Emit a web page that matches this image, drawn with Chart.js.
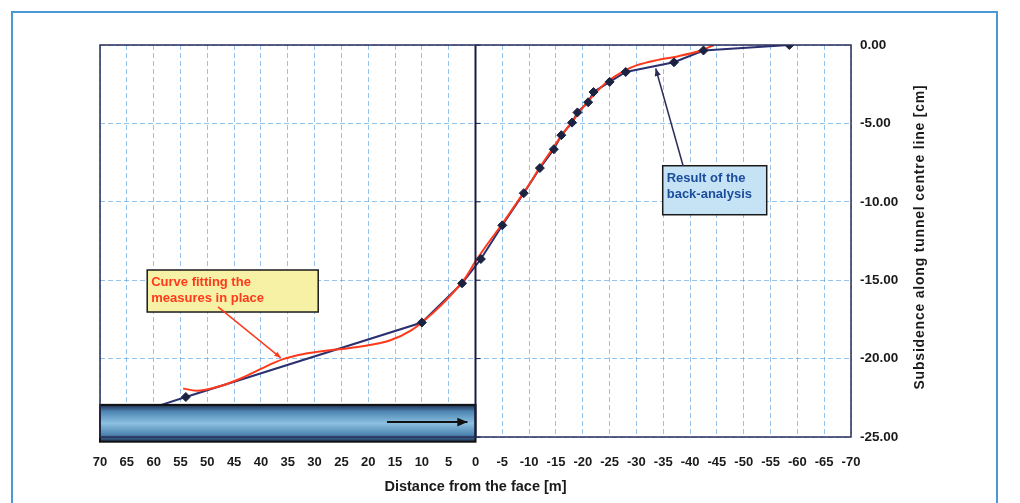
<!DOCTYPE html>
<html>
<head>
<meta charset="utf-8">
<script src="https://cdn.jsdelivr.net/npm/chart.js@4.4.0/dist/chart.umd.min.js"></script>
<style>
  html, body { margin: 0; padding: 0; background: #fff; }
</style>
</head>
<body>
<canvas id="subsidenceChart" width="1020" height="503"></canvas>
<script>
// distance from the face [m] (positive = behind the face) and subsidence [cm]
const backDist = [59, 54, 10, 2.5, -1, -5, -9, -12, -14.6, -16, -18, -19, -21, -22, -25, -28, -37, -42.5, -58.5];
const backSubs = [-23.0, -22.45, -17.7, -15.2, -13.65, -11.5, -9.45, -7.85, -6.65, -5.75, -4.95, -4.3, -3.65, -3.0, -2.35, -1.72, -1.1, -0.35, 0];

const fitDist = [54.5, 52, 48, 44, 40, 36, 32, 28, 24, 20, 16, 12, 8, 5, 2, 0, -2, -5, -8, -10, -12, -14, -16, -18, -20, -22, -24, -26, -28, -30, -34, -38, -42, -44.5];
const fitSubs = [-21.9, -22.05, -21.8, -21.3, -20.65, -20.05, -19.7, -19.5, -19.35, -19.15, -18.85, -18.2, -17.1, -16.1, -14.9, -13.8, -12.8, -11.4, -9.9, -8.9, -7.8, -6.8, -5.8, -4.9, -4.0, -3.2, -2.5, -2.0, -1.6, -1.3, -0.95, -0.7, -0.35, 0];

const xTickValues = [70, 65, 60, 55, 50, 45, 40, 35, 30, 25, 20, 15, 10, 5, 0, -5, -10, -15, -20, -25, -30, -35, -40, -45, -50, -55, -60, -65, -70];
const yTickValues = [0, -5, -10, -15, -20, -25];

const backPoints = backDist.map((d, i) => ({ x: d, y: backSubs[i] }));
const fitPoints = fitDist.map((d, i) => ({ x: d, y: fitSubs[i] }));

// tunnel drawn under the curve, in data units
const tunnel = { from: 70, to: 0, top: -22.95, bottom: -25.3, arrowFrom: 16.5, arrowTo: 1.5, arrowY: -24.05 };

const NAVY = '#2b3170';
const RED = '#ff3a1c';
const GRID = 'rgba(80, 155, 220, 0.6)';
const FONT = '"Liberation Sans", Arial, sans-serif';

function drawArrow(ctx, x1, y1, x2, y2, color, width, head) {
  ctx.save();
  ctx.strokeStyle = color;
  ctx.fillStyle = color;
  ctx.lineWidth = width;
  ctx.beginPath();
  ctx.moveTo(x1, y1);
  ctx.lineTo(x2, y2);
  ctx.stroke();
  const a = Math.atan2(y2 - y1, x2 - x1);
  ctx.beginPath();
  ctx.moveTo(x2, y2);
  ctx.lineTo(x2 - head * Math.cos(a - 0.4), y2 - head * Math.sin(a - 0.4));
  ctx.lineTo(x2 - head * Math.cos(a + 0.4), y2 - head * Math.sin(a + 0.4));
  ctx.closePath();
  ctx.fill();
  ctx.restore();
}

function drawNote(ctx, x, y, w, h, fill, color, lines) {
  ctx.save();
  ctx.fillStyle = fill;
  ctx.fillRect(x, y, w, h);
  ctx.strokeStyle = '#1a1a1a';
  ctx.lineWidth = 1.5;
  ctx.strokeRect(x, y, w, h);
  ctx.fillStyle = color;
  ctx.font = 'bold 13px ' + FONT;
  ctx.textBaseline = 'alphabetic';
  lines.forEach((t, i) => ctx.fillText(t, x + 4, y + 16 + i * 16));
  ctx.restore();
}

const decorations = {
  id: 'decorations',
  beforeDraw(chart) {
    const ctx = chart.ctx;
    ctx.save();
    ctx.fillStyle = '#fff';
    ctx.fillRect(0, 0, chart.width, chart.height);
    // outer blue frame
    ctx.strokeStyle = '#4a9ad8';
    ctx.lineWidth = 2;
    ctx.strokeRect(12, 12, 985, 520);
    ctx.restore();
  },
  afterDatasetsDraw(chart) {
    const { ctx, chartArea: a, scales: { x, y } } = chart;
    ctx.save();

    // tunnel bar
    const tx1 = x.getPixelForValue(tunnel.from), tx2 = x.getPixelForValue(tunnel.to);
    const ty1 = y.getPixelForValue(tunnel.top), ty2 = y.getPixelForValue(tunnel.bottom);
    const g = ctx.createLinearGradient(0, ty1, 0, ty2);
    g.addColorStop(0, '#1d2c4c');
    g.addColorStop(0.18, '#4d86b3');
    g.addColorStop(0.5, '#8cc0e0');
    g.addColorStop(0.8, '#4f87b2');
    g.addColorStop(1, '#1f3352');
    ctx.fillStyle = g;
    ctx.fillRect(tx1, ty1, tx2 - tx1, ty2 - ty1);
    ctx.strokeStyle = '#111';
    ctx.lineWidth = 2;
    ctx.strokeRect(tx1, ty1, tx2 - tx1, ty2 - ty1);
    const ay = y.getPixelForValue(tunnel.arrowY);
    drawArrow(ctx, x.getPixelForValue(tunnel.arrowFrom), ay, x.getPixelForValue(tunnel.arrowTo), ay, '#111', 2, 11);

    // face line at distance 0 with small ticks
    const x0 = x.getPixelForValue(0);
    ctx.strokeStyle = '#1a1a40';
    ctx.lineWidth = 2;
    ctx.beginPath();
    ctx.moveTo(x0, a.top);
    ctx.lineTo(x0, a.bottom);
    ctx.stroke();
    ctx.lineWidth = 1;
    yTickValues.forEach(v => {
      const yy = y.getPixelForValue(v);
      ctx.beginPath();
      ctx.moveTo(x0, yy);
      ctx.lineTo(x0 + 5, yy);
      ctx.stroke();
    });

    // plot frame
    ctx.strokeStyle = '#2a2d5a';
    ctx.lineWidth = 1.5;
    ctx.strokeRect(a.left, a.top, a.right - a.left, a.bottom - a.top);

    // notes
    drawNote(ctx, x.getPixelForValue(61.2), y.getPixelForValue(-14.35), 171, 42, '#f7f1a6', RED,
      ['Curve fitting the', 'measures in place']);
    drawArrow(ctx, x.getPixelForValue(48), y.getPixelForValue(-16.7),
      x.getPixelForValue(36.3), y.getPixelForValue(-19.95), RED, 1.5, 7);

    drawNote(ctx, x.getPixelForValue(-34.9), y.getPixelForValue(-7.7), 104, 49, '#c6e3f5', '#1a4d9c',
      ['Result of the', 'back-analysis']);
    drawArrow(ctx, x.getPixelForValue(-38.7), y.getPixelForValue(-7.7),
      x.getPixelForValue(-33.6), y.getPixelForValue(-1.5), '#2a2d5a', 1.5, 8);

    ctx.restore();
  },
  afterDraw(chart) {
    const { ctx, chartArea: a } = chart;
    ctx.save();
    ctx.translate(920, (a.top + a.bottom) / 2 - 4);
    ctx.rotate(-Math.PI / 2);
    ctx.fillStyle = '#1a1a1a';
    ctx.font = 'bold 14px ' + FONT;
    ctx.letterSpacing = '0.8px';
    ctx.textAlign = 'center';
    ctx.textBaseline = 'middle';
    ctx.fillText('Subsidence along tunnel centre line [cm]', 0, 0);
    ctx.restore();
  }
};

new Chart(document.getElementById('subsidenceChart'), {
  type: 'line',
  data: {
    datasets: [
      {
        label: 'Back-analysis points',
        data: backPoints,
        showLine: false,
        pointStyle: 'rectRot',
        pointRadius: backPoints.map((p, i) => (i === 0 ? 0 : 4.5)),
        pointBackgroundColor: '#1c2340',
        pointBorderColor: '#1c2340'
      },
      {
        label: 'Curve fitting the measures in place',
        data: fitPoints,
        borderColor: RED,
        borderWidth: 2,
        pointRadius: 0,
        cubicInterpolationMode: 'monotone',
        fill: false
      },
      {
        label: 'Result of the back-analysis',
        data: backPoints,
        borderColor: NAVY,
        borderWidth: 2,
        pointRadius: 0,
        tension: 0,
        fill: false
      }
    ]
  },
  options: {
    responsive: false,
    animation: false,
    layout: { padding: { left: 100, top: 45, right: 0, bottom: 0 } },
    plugins: { legend: { display: false }, tooltip: { enabled: false } },
    scales: {
      x: {
        type: 'linear',
        position: 'bottom',
        min: -70,
        max: 70,
        reverse: true,
        afterBuildTicks: s => { s.ticks = xTickValues.map(v => ({ value: v })); },
        afterFit: s => { s.height = 66; },
        ticks: {
          autoSkip: false,
          maxRotation: 0,
          padding: 18,
          color: '#1a1a1a',
          font: { family: FONT, size: 13, weight: 'bold' },
          callback: v => String(v)
        },
        grid: { color: GRID, lineWidth: 1, drawTicks: false },
        border: { display: false, dash: [5, 3] },
        title: {
          display: true,
          text: 'Distance from the face [m]',
          color: '#1a1a1a',
          font: { family: FONT, size: 14.5, weight: 'bold' },
          padding: { top: 0, bottom: 7 }
        }
      },
      y: {
        type: 'linear',
        position: 'right',
        min: -25,
        max: 0,
        afterBuildTicks: s => { s.ticks = yTickValues.map(v => ({ value: v })); },
        afterFit: s => { s.width = 169; },
        ticks: {
          padding: 9,
          color: '#1a1a1a',
          font: { family: FONT, size: 13.5, weight: 'bold' },
          callback: v => v.toFixed(2)
        },
        grid: { color: GRID, lineWidth: 1, drawTicks: false },
        border: { display: false, dash: [5, 3] }
      }
    }
  },
  plugins: [decorations]
});
</script>
</body>
</html>
